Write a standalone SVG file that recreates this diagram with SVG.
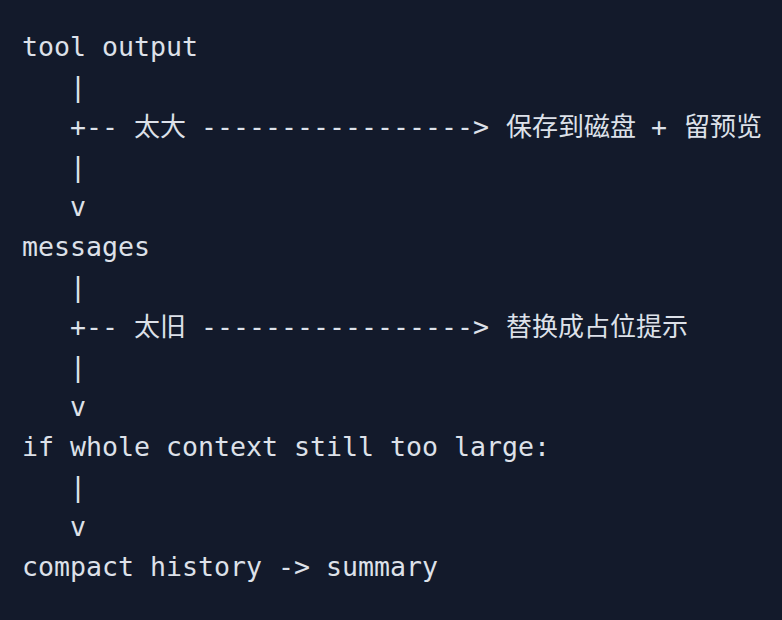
<svg xmlns="http://www.w3.org/2000/svg" width="782" height="620" viewBox="0 0 782 620">
<style>
text{font-family:"DejaVu Sans Mono","Liberation Mono","Noto Sans CJK SC",monospace;font-size:26.58px;fill:#dde1e9;white-space:pre}
.cjk{font-family:"Noto Sans CJK SC","Noto Sans",sans-serif;font-size:26px}
</style>
<rect width="782" height="620" fill="#131a2b"/>
<g id="node-tool-output"><text x="22" y="56">tool output</text></g>
<g id="node-messages"><text x="22" y="256">messages</text></g>
<g id="node-if-large"><text x="22" y="456">if whole context still too large:</text></g>
<g id="node-compact"><text x="22" y="576">compact history -&gt; summary</text></g>
<g id="connectors">
<text x="70" y="96">|</text>
<text x="70" y="136">+--</text>
<text x="134" y="136" class="cjk">太大</text>
<text x="201" y="136">-----------------&gt;</text>
<text x="506" y="136" class="cjk">保存到磁盘</text>
<text x="651" y="136">+</text>
<text x="684" y="136" class="cjk">留预览</text>
<text x="70" y="176">|</text>
<text x="70" y="216">v</text>
<text x="70" y="296">|</text>
<text x="70" y="336">+--</text>
<text x="134" y="336" class="cjk">太旧</text>
<text x="201" y="336">-----------------&gt;</text>
<text x="506" y="336" class="cjk">替换成占位提示</text>
<text x="70" y="376">|</text>
<text x="70" y="416">v</text>
<text x="70" y="496">|</text>
<text x="70" y="536">v</text>
</g>
</svg>
